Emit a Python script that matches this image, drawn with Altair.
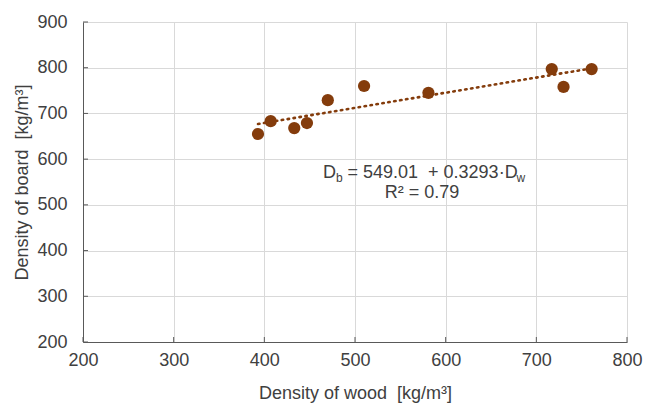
import altair as alt
import pandas as pd

# Data
wood_density = [393, 407, 433, 447, 470, 510, 581, 717, 730, 761]
board_density = [655, 683, 668, 679, 729, 760, 745, 797, 758, 797]

x_ticks = [200, 300, 400, 500, 600, 700, 800]
y_ticks = [200, 300, 400, 500, 600, 700, 800, 900]

NB = "\u00a0"
eq_parts = ["D", "b", f"={NB}549.01{NB}{NB}+{NB}0.3293·D", "w"]
r2_text = "R² = 0.79"
x_title = f"Density of wood{NB}{NB}[kg/m³]"
y_title = f"Density of board{NB}{NB}[kg/m³]"

df = pd.DataFrame({"wood": wood_density, "board": board_density})

BROWN = "#843C0C"
TXT = "#404040"
FONT = "Liberation Sans"
W, H = 544, 320

xs = alt.Scale(domain=[200, 800], nice=False, zero=False)
ys = alt.Scale(domain=[200, 900], nice=False, zero=False)

common = dict(grid=True, gridColor="#d9d9d9", domainColor="#595959", ticks=False,
              labelFontSize=18, titleFontSize=18, labelColor=TXT, titleColor=TXT,
              labelFont=FONT, titleFont=FONT, titleFontWeight="normal",
              labelFlush=False)
x_axis = alt.Axis(values=x_ticks, title=x_title, labelPadding=9, titlePadding=15, **common)
y_axis = alt.Axis(values=y_ticks, title=y_title, labelPadding=16, titlePadding=5, **common)

base = alt.Chart(df)

points = base.mark_point(filled=True, size=150, color=BROWN, opacity=1).encode(
    x=alt.X("wood:Q", scale=xs, axis=x_axis),
    y=alt.Y("board:Q", scale=ys, axis=y_axis),
)

trend = base.transform_regression("wood", "board").mark_line(
    color=BROWN, strokeWidth=2.6, strokeDash=[1.5, 4.5], strokeCap="round"
).encode(x=alt.X("wood:Q", scale=xs), y=alt.Y("board:Q", scale=ys))

# inward tick marks
xt = alt.Chart(pd.DataFrame({"v": x_ticks})).mark_rule(color="#595959").encode(
    x=alt.X("v:Q", scale=xs), y=alt.value(H), y2=alt.value(H - 5))
yt = alt.Chart(pd.DataFrame({"v": y_ticks})).mark_rule(color="#595959").encode(
    y=alt.Y("v:Q", scale=ys), x=alt.value(0), x2=alt.value(5))

# equation annotation (with subscripts)
eq_x, eq_y = 464.7, 559
def txt(s, dx, dy, size):
    return alt.Chart(pd.DataFrame({"x": [eq_x], "y": [eq_y], "t": [s]})).mark_text(
        align="left", baseline="alphabetic", dx=dx, dy=dy, fontSize=size,
        font=FONT, color=TXT
    ).encode(x=alt.X("x:Q", scale=xs), y=alt.Y("y:Q", scale=ys), text="t:N")

eq = [txt(eq_parts[0], 0, 0, 18), txt(eq_parts[1], 13, 4, 12),
      txt(eq_parts[2], 24.5, 0, 18), txt(eq_parts[3], 193.5, 4, 12)]

r2 = alt.Chart(pd.DataFrame({"x": [573.9], "y": [515], "t": [r2_text]})).mark_text(
    align="center", baseline="alphabetic", fontSize=18, font=FONT, color=TXT
).encode(x=alt.X("x:Q", scale=xs), y=alt.Y("y:Q", scale=ys), text="t:N")

chart = alt.layer(trend, xt, yt, points, *eq, r2).properties(
    width=W, height=H, autosize="none",
    padding={"left": 83, "top": 22, "right": 19, "bottom": 61},
    background="white",
).configure_view(stroke=None)

chart.save("out.html", embed_options={"renderer": "svg", "actions": False})
